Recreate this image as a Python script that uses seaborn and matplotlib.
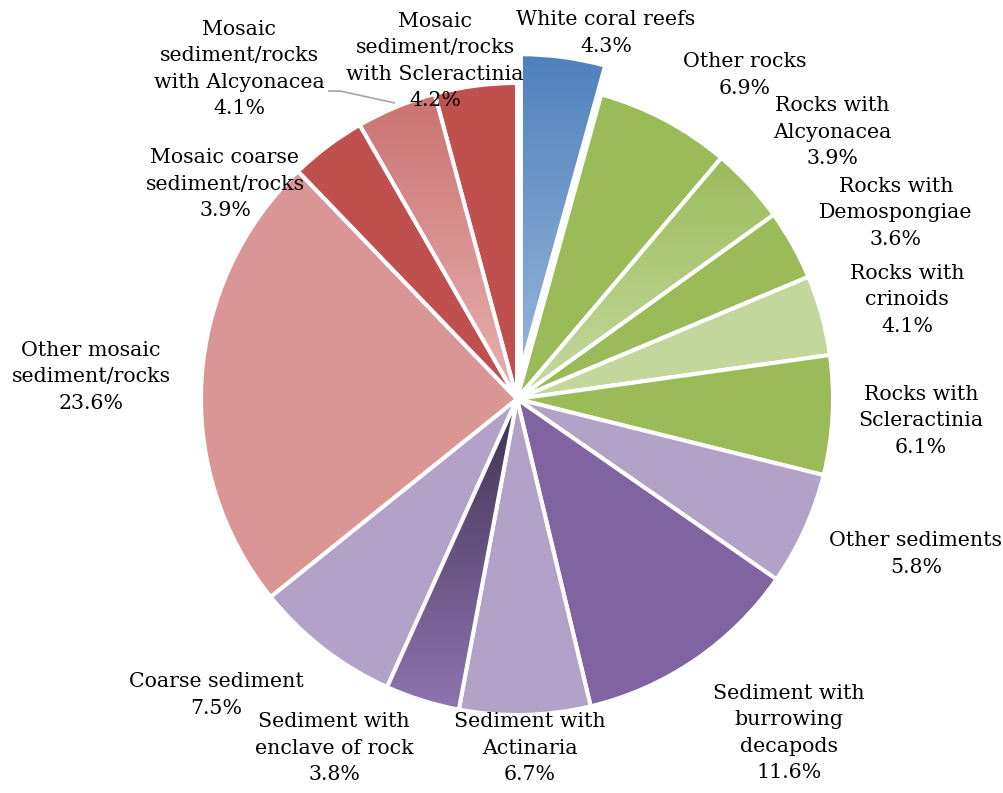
import numpy as np
import matplotlib
matplotlib.use("Agg")
import matplotlib.pyplot as plt
import seaborn as sns
from matplotlib.colors import to_rgb

# Habitat categories, clockwise from 12 o'clock
categories = [
    "White coral reefs",
    "Other rocks",
    "Rocks with\nAlcyonacea",
    "Rocks with\nDemospongiae",
    "Rocks with\ncrinoids",
    "Rocks with\nScleractinia",
    "Other sediments",
    "Sediment with\nburrowing\ndecapods",
    "Sediment with\nActinaria",
    "Sediment with\nenclave of rock",
    "Coarse sediment",
    "Other mosaic\nsediment/rocks",
    "Mosaic coarse\nsediment/rocks",
    "Mosaic\nsediment/rocks\nwith Alcyonacea",
    "Mosaic\nsediment/rocks\nwith Scleractinia",
]
shares = [4.3, 6.9, 3.9, 3.6, 4.1, 6.1, 5.8, 11.6, 6.7, 3.8, 7.5, 23.6, 3.9, 4.1, 4.2]

slice_colors = [
    "#4F81BD", "#9BBB59", "#9BBB59", "#9BBB59", "#C3D69B", "#9BBB59",
    "#B2A2C7", "#8064A2", "#B2A2C7", "#8F75B0", "#B2A2C7",
    "#D99694", "#C0504D", "#CD7573", "#C0504D",
]
# vertical fills (top colour, bottom colour) for shaded slices
shaded = {
    0: ("#4F81BD", "#97B5D9"),
    2: ("#9BBB59", "#C6DAA2"),
    9: ("#3F3151", "#8F75B0"),
    13: ("#CB7270", "#E6B3B1"),
}

sns.set_theme(style="white")
plt.rcParams["font.family"] = ["DejaVu Serif"]

W, H = 1004, 793
fig = plt.figure(figsize=(W / 100, H / 100), dpi=100)
ax = fig.add_axes([0, 0, 1, 1])

cx, cy, R = 517, H - 399, 316
explode = [29 if i == 0 else 0 for i in range(len(shares))]

wedges, _ = ax.pie(
    shares,
    colors=slice_colors,
    startangle=90,
    counterclock=False,
    radius=R,
    center=(cx, cy),
    explode=explode,
    wedgeprops=dict(edgecolor="white", linewidth=2.9),
)

for i, (top, bottom) in shaded.items():
    w = wedges[i]
    ext = w.get_path().get_extents()
    t = np.linspace(0, 1, 256)[:, None]
    c0, c1 = np.array(to_rgb(bottom)), np.array(to_rgb(top))
    grad = (c0[None, :] * (1 - t) + c1[None, :] * t)[:, None, :]
    im = ax.imshow(grad, extent=(ext.x0, ext.x1, ext.y0, ext.y1),
                   origin="lower", aspect="auto", zorder=2,
                   interpolation="bilinear")
    im.set_clip_path(w)
    w.set_facecolor("none")
    w.set_zorder(3)

# label block centres (x, y from top)
label_pos = [
    (606, 33), (745, 75), (832, 132), (896, 213), (907, 300),
    (921, 421), (916, 554), (789, 733), (530, 748), (334, 748),
    (216, 695), (91, 377), (225, 184), (239, 69), (435, 61),
]
for name, val, (lx, ly) in zip(categories, shares, label_pos):
    ax.text(lx, H - ly, f"{name}\n{val:.1f}%", ha="center", va="center",
            fontsize=14.8, color="black", linespacing=1.5, zorder=5)

# leader line for the small Alcyonacea mosaic slice
ax.plot([328, 340, 395], [H - 91, H - 91, H - 103], color="#A6A6A6",
        lw=1.2, zorder=4, solid_capstyle="butt")

ax.set_xlim(0, W)
ax.set_ylim(0, H)
ax.set_aspect("equal")
ax.axis("off")
fig.savefig("out.png", dpi=100, facecolor="white")
